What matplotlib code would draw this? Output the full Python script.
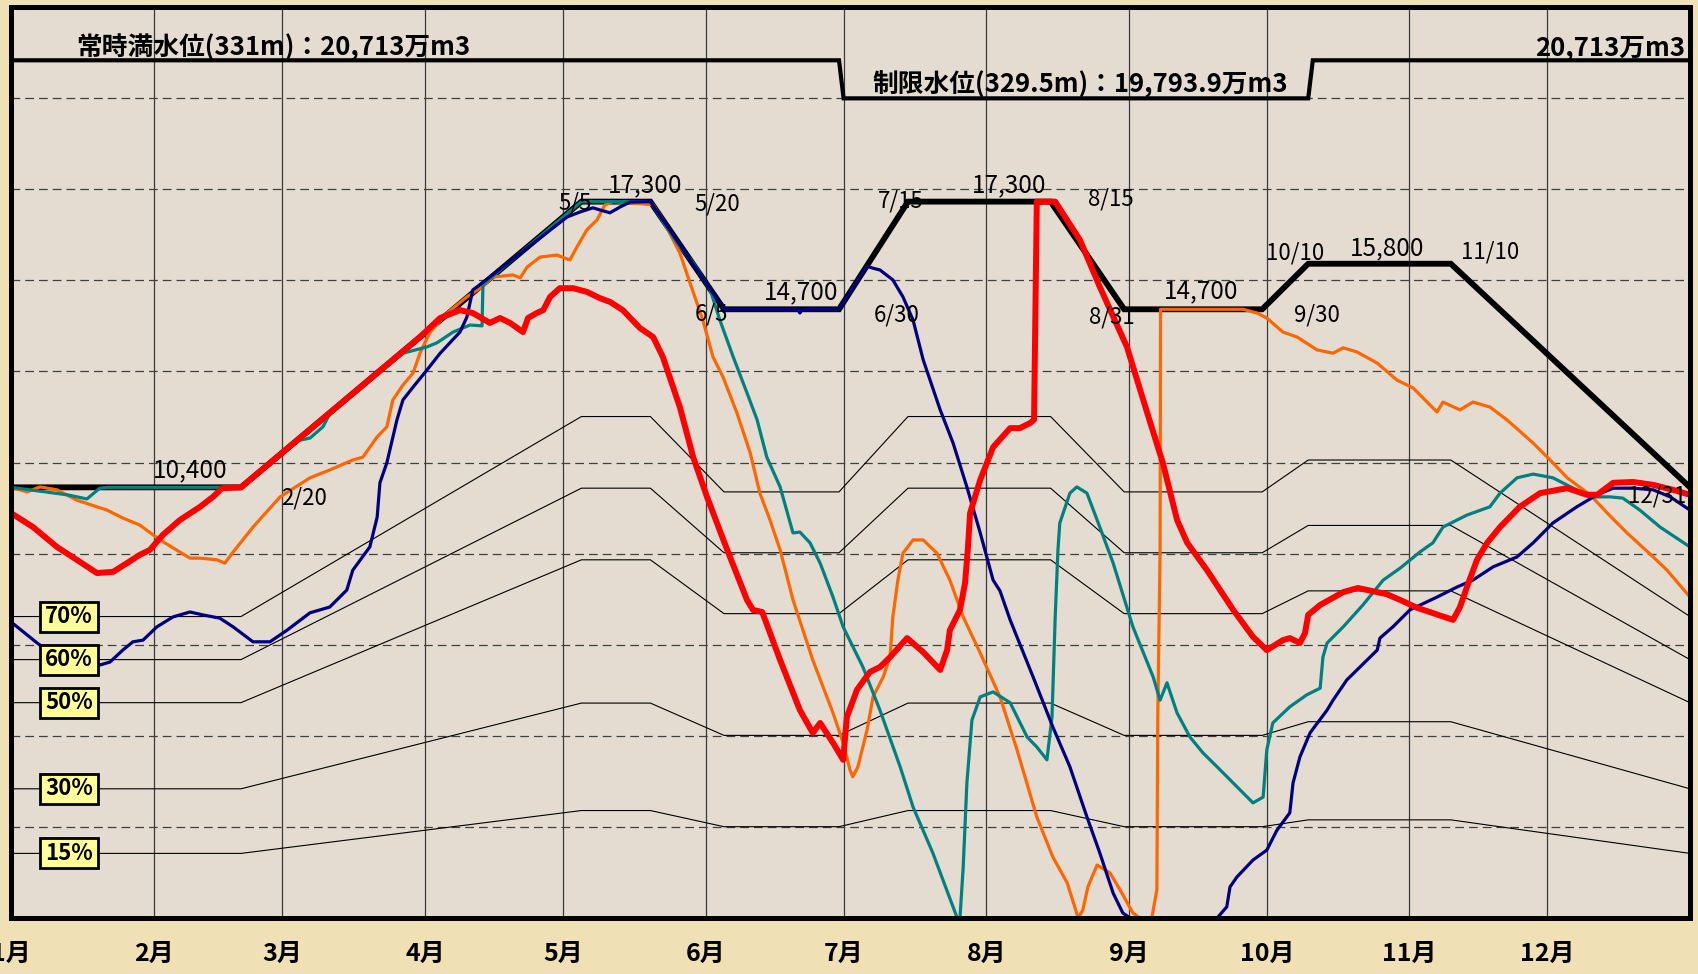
import matplotlib
matplotlib.use('Agg')
import matplotlib.pyplot as plt
import matplotlib.transforms as mtransforms
from matplotlib.patches import Rectangle
import numpy as np

# ---------------- data ----------------
month_labels = ["1月", "2月", "3月", "4月", "5月", "6月", "7月", "8月", "9月", "10月", "11月", "12月"]
month_days = [0, 31, 59, 90, 120, 151, 181, 212, 243, 273, 304, 334]

rule_days = [0, 50, 124, 139, 155, 180, 195, 226, 242, 272, 282, 313, 365]
rule_vals = [10400, 10400, 17300, 17300, 14700, 14700, 17300, 17300, 14700, 14700, 15800, 15800, 10400]

full_days = [0, 180, 181, 282, 283, 365]
full_vals = [20713, 20713, 19793.9, 19793.9, 20713, 20713]

pct_levels = [0.70, 0.60, 0.50, 0.30, 0.15]
pct_labels = ["70%", "60%", "50%", "30%", "15%"]

red_days = [0, 4.8, 10, 14.3, 18.7, 22.2, 25.2, 28, 30.2, 33, 36.7, 41.1, 43.9, 45.9, 50, 89, 93.3, 97.6,
            100.4, 104.1, 106.3, 108.5, 111.3, 112.4, 114.3, 115.7, 117.2, 119.3, 122.2, 125.2, 128, 130.2,
            133, 136.7, 139.6, 141.7, 145.4, 148.3, 151.3, 155.7, 160, 161.3, 163.3, 167.2, 171.5, 174.3,
            175.9, 178.7, 180.9, 181.7, 183.9, 186.7, 188.9, 191.1, 194.8, 198.3, 202, 203.5, 204.1, 206.3,
            207.4, 208, 208.5, 210.7, 213.5, 217.2, 219.3, 221.5, 222.4, 223, 227, 232.4, 236.7, 242.6, 247,
            250.4, 253.5, 255.7, 260, 265.7, 270, 273, 276.5, 278, 280.2, 281.3, 282, 284.6, 289.6, 292.8,
            299.1, 302, 305.7, 313.5, 315, 316.5, 318.7, 320.9, 323.7, 328, 332.4, 338.3, 342.6, 344.8,
            348.3, 352.6, 357, 361.3, 365]
red_vals = [9780, 9440, 8960, 8650, 8330, 8360, 8570, 8770, 8890, 9250, 9610, 9930, 10170, 10380, 10400,
            14040, 14490, 14680, 14610, 14370, 14490, 14370, 14150, 14490, 14610, 14680, 15000, 15210, 15210,
            15120, 14970, 14880, 14680, 14250, 14030, 13550, 12340, 11130, 10170, 8890, 7680, 7440, 7390,
            6230, 5020, 4470, 4710, 4230, 3820, 4850, 5510, 5940, 6060, 6300, 6760, 6420, 5990, 6470, 6950,
            7440, 8090, 8890, 9780, 10580, 11370, 11830, 11830, 11950, 12030, 17300, 17300, 16370, 15240,
            13790, 12200, 10990, 9610, 9060, 8400, 7440, 6790, 6470, 6710, 6760, 6640, 6880, 7320, 7560,
            7870, 7970, 7820, 7680, 7490, 7200, 7510, 7990, 8650, 9060, 9440, 9930, 10260, 10380, 10220,
            10220, 10510, 10530, 10460, 10340, 10220]

teal_days = [0, 12.2, 16.5, 19.3, 21, 50, 62, 65, 67.8, 69.5, 85.2, 90.4, 92.6, 96.1, 99.8, 102.4, 102.6,
             124, 139, 144.8, 148.3, 152, 154.1, 157, 160, 162.2, 164.3, 167.2, 170, 171.5, 173.7, 175.9,
             178.7, 180.9, 185.2, 188.9, 193.3, 196.1, 200.4, 205.7, 206.3, 207, 207.8, 208.9, 210.7, 213.5,
             217.2, 220.9, 223, 225.2, 226.3, 227, 227.6, 228, 230.2, 231.7, 233.9, 236.7, 239.6, 243.9,
             248.3, 249.8, 251.3, 253.5, 256.3, 259.1, 262.2, 265.7, 270, 272.2, 273, 274.3, 278, 281.7,
             284.6, 285.2, 286.1, 289.6, 293.9, 298.3, 302, 306.3, 309.1, 311.3, 316.5, 321.5, 323.7, 327.4,
             330.9, 335.2, 339.6, 343.3, 347.6, 350.4, 354.1, 358.5, 365]
teal_vals = [10400, 10220, 10120, 10380, 10400, 10400, 11520, 11590, 11860, 12220, 13640, 13790, 13890,
             14150, 14320, 14300, 15300, 17300, 17300, 16300, 15820, 15170, 14440, 13550, 12680, 12030, 11130,
             10410, 9300, 9320, 9060, 8570, 7750, 7030, 6060, 5020, 3650, 2680, 1570, 0, 0, 1230, 3260, 4780,
             5340, 5460, 5200, 4370, 4130, 3820, 4850, 7270, 8890, 9540, 10260, 10410, 10260, 9440, 8570,
             7030, 5820, 5260, 5680, 4950, 4370, 3990, 3650, 3260, 2780, 2920, 4060, 4710, 5100, 5390, 5550,
             6300, 6640, 7030, 7560, 8160, 8450, 8840, 9060, 9440, 9730, 9930, 10260, 10630, 10720, 10630,
             10380, 10170, 10170, 10140, 9850, 9440, 8960]

orange_days = [0, 3.5, 6.3, 10, 14.3, 20.9, 24.3, 28, 32.4, 38.9, 41.1, 44.8, 46.5, 48.3, 52.6, 58.5, 65,
               69.3, 74.3, 76.5, 79.6, 81.7, 83, 85.2, 87.4, 88.9, 91.1, 94.8, 99.1, 102, 104.8, 109.1, 110.7,
               112.2, 115, 118.7, 121.5, 123, 125.2, 127.4, 129.1, 130.9, 137, 139.6, 141.7, 145.4, 147.6,
               150.4, 152.6, 154.8, 157.8, 160.7, 162.8, 165, 167.2, 170, 174.3, 178.7, 180.9, 182.4, 183,
               184.1, 186.1, 187.4, 189.6, 191.1, 191.7, 192.8, 193.9, 196.1, 198.3, 201.3, 204.1, 207, 210.7,
               215, 218.7, 223, 226.5, 229.6, 232, 233, 234.1, 236.1, 238.9, 241.1, 243.9, 245.4, 248, 249.1,
               249.3, 249.8, 249.9, 267.8, 270.9, 273, 276.5, 279.6, 283.9, 287.4, 289.6, 292.6, 297, 301.3,
               304.8, 310, 311.3, 315, 317.8, 321.5, 325.2, 330.9, 334.6, 338.3, 343.3, 347, 351.3, 357, 360,
               365]
orange_vals = [10400, 10290, 10410, 10340, 10090, 9850, 9660, 9490, 9130, 8690, 8690, 8650, 8570, 8840, 9440,
               10170, 10630, 10820, 11060, 11130, 11620, 11860, 12510, 12870, 13160, 13640, 14150, 14610,
               15000, 15210, 15480, 15530, 15460, 15720, 15960, 16010, 15890, 16200, 16620, 16860, 17220,
               17300, 17250, 17220, 16860, 16060, 15340, 14440, 13550, 13060, 12200, 11230, 10260, 9610, 8890,
               7680, 6230, 4950, 4230, 3570, 3410, 3650, 4540, 5340, 5820, 6300, 7270, 8160, 8810, 9130, 9130,
               8810, 8160, 7270, 6400, 5340, 4060, 2440, 1470, 850, 0, 190, 750, 1280, 1090, 680, 120, 0, 0,
               680, 4850, 8890, 14700, 14700, 14610, 14490, 14150, 14030, 13720, 13640, 13770, 13670, 13400,
               12990, 12800, 12220, 12460, 12270, 12460, 12340, 12030, 11470, 11060, 10630, 10220, 9780, 9300,
               8720, 8400, 7750]

navy_days = [0, 5.7, 10.7, 16.1, 19.3, 21.5, 24.3, 26.5, 28.7, 31.7, 35.2, 38.9, 41.7, 45.4, 48.3, 52.6,
             56.3, 60, 65, 69.3, 73, 74.3, 78, 79.6, 80.2, 81.7, 83.9, 85.2, 87.4, 90.4, 93.3, 97.6, 99.1,
             100.4, 101.3, 120.9, 123.7, 126.5, 128, 130.2, 132.4, 134.6, 139, 155, 171, 171.5, 172, 180,
             186, 187.8, 188.9, 191.7, 193.9, 196.1, 198.3, 199.8, 202, 204.8, 207.8, 210.7, 213.5, 215,
             217.2, 222.2, 226.5, 230.2, 233.9, 236.7, 239.6, 241.7, 243.3, 262.2, 264.3, 265, 266.5, 270,
             273, 275.2, 278, 278.7, 280.2, 282.4, 286.1, 287.4, 290.4, 294.8, 297, 297.6, 300.4, 304.1,
             310, 314.3, 317.8, 322.2, 327.4, 330.9, 335.2, 340.4, 344.8, 348.3, 352.6, 357, 360.7, 365]
navy_vals = [7150, 6640, 6230, 6060, 6110, 6180, 6470, 6670, 6710, 7030, 7270, 7390, 7320, 7240, 7030, 6670,
             6670, 6950, 7370, 7510, 7920, 8400, 8960, 9680, 10510, 10990, 12030, 12510, 12820, 13230, 13640,
             14150, 14510, 15170, 15240, 16930, 17050, 17150, 17100, 17030, 17170, 17290, 17300, 14700, 14700,
             14610, 14700, 14700, 15740, 15680, 15650, 15410, 15000, 14440, 13480, 12990, 12270, 11470,
             10410, 9300, 8160, 7900, 7200, 5820, 4610, 3650, 2440, 1570, 600, 120, 0, 0, 270, 750, 990, 1400,
             1640, 2120, 2540, 3260, 3890, 4470, 5020, 5260, 5750, 6230, 6470, 6760, 7030, 7440, 7750, 7990,
             8160, 8480, 8720, 9060, 9540, 9930, 10220, 10380, 10380, 10340, 10170, 9850]

# ---------------- figure ----------------
FONT = ['Liberation Sans Narrow', 'Noto Sans CJK JP']
plt.rcParams['font.family'] = FONT

W, H = 1698, 974
fig = plt.figure(figsize=(W / 100, H / 100), dpi=100)
fig.patch.set_facecolor('#efe0b6')
ax = fig.add_axes([11 / W, 1 - 918 / H, 1679 / W, 911 / H])
ax.set_facecolor('#e4dcd0')
ax.set_xlim(0, 365)
ax.set_ylim(0, 22000)
ax.set_xticks([])
ax.set_yticks([])
for s in ax.spines.values():
    s.set_linewidth(3.6)
    s.set_color('black')
    s.set_zorder(20)

# grid
for d in month_days[1:]:
    ax.axvline(d, color='#3a3a3a', lw=0.9, zorder=1)
for v in np.arange(2200, 22000, 2200):
    ax.axhline(v, color='#404040', lw=0.9, linestyle=(0, (7, 4)), zorder=1)

# percentage lines
rv = np.array(rule_vals, dtype=float)
for p in pct_levels:
    ax.plot(rule_days, rv * p, color='black', lw=0.8, zorder=2)

# full water line and rule curve
ax.plot(full_days, full_vals, color='black', lw=3.0, zorder=3, solid_joinstyle='miter')
ax.plot(rule_days, rule_vals, color='black', lw=4.2, zorder=3, solid_joinstyle='miter')

# series
ax.plot(orange_days, orange_vals, color='#ff6600', lw=2.3, zorder=4)
ax.plot(teal_days, teal_vals, color='#008080', lw=2.3, zorder=5)
ax.plot(navy_days, navy_vals, color='#000080', lw=2.3, zorder=6)
ax.plot(red_days, red_vals, color='#ff0000', lw=4.3, zorder=7)

# percent boxes
bw, bh = 12.8, 724
for p, lab in zip(pct_levels, pct_labels):
    yv = 10400 * p
    ax.add_patch(Rectangle((12.6 - bw / 2, yv - bh / 2), bw, bh, facecolor='#ffff99',
                           edgecolor='black', lw=2, zorder=8))
    ax.text(12.6, yv, lab, ha='center', va='center', fontsize=16, fontweight='bold', zorder=9)

# header texts
ax.text(14.1, 21010, "常時満水位(331m)：20,713万m3", ha='left', va='center', fontsize=18.5,
        fontweight='bold', zorder=9)
ax.text(187.2, 20140, "制限水位(329.5m)：19,793.9万m3", ha='left', va='center', fontsize=18.5,
        fontweight='bold', zorder=9)
ax.text(363.9, 21010, "20,713万m3", ha='right', va='center', fontsize=18.5, fontweight='bold', zorder=9)

# value / date labels
labels = [
    ("17,300", 137.8, 17701), ("17,300", 217.0, 17701),
    ("5/5", 122.6, 17267), ("5/20", 153.5, 17242),
    ("14,700", 171.7, 15117), ("6/5", 152.2, 14586), ("6/30", 192.6, 14562),
    ("7/15", 193.5, 17315), ("8/15", 239.1, 17363), ("8/31", 239.3, 14513),
    ("14,700", 258.7, 15141), ("9/30", 283.9, 14562), ("10/10", 279.1, 16059),
    ("15,800", 299.1, 16180), ("11/10", 321.5, 16083),
    ("10,400", 38.9, 10819), ("2/20", 63.7, 10142), ("12/31", 357.8, 10191),
]
for t, x, y in labels:
    fs = 17.5 if ',' in t else 16
    ax.text(x, y, t, ha='center', va='center', fontsize=fs, zorder=9)

# month labels below axis
trans = mtransforms.blended_transform_factory(ax.transData, fig.transFigure)
for d, lab in zip(month_days, month_labels):
    ax.text(d, 1 - 954 / H, lab, transform=trans, ha='center', va='center', fontsize=18,
            fontweight='bold', clip_on=False)

fig.savefig('out.png', dpi=100, facecolor=fig.get_facecolor())
